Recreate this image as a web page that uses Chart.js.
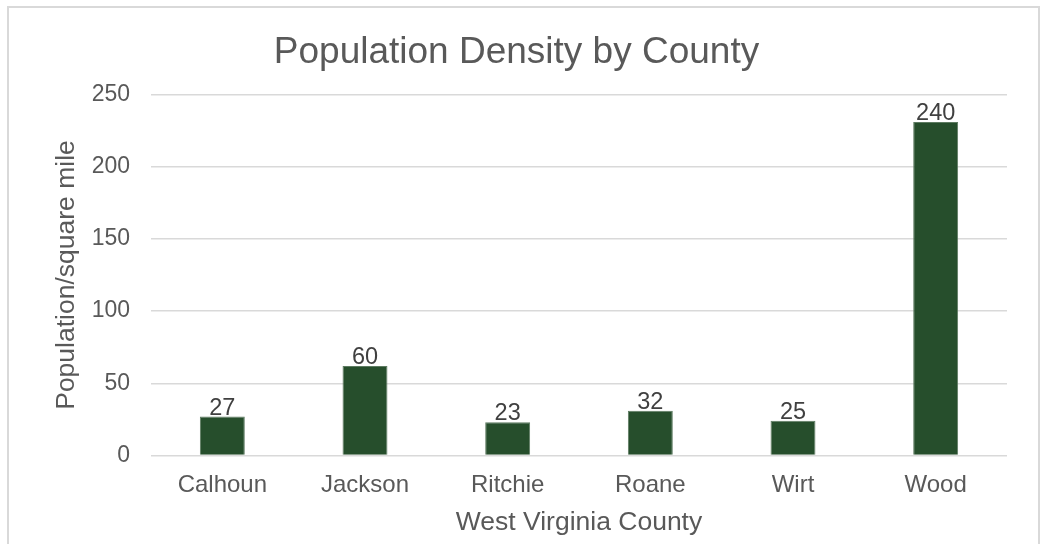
<!DOCTYPE html>
<html><head><meta charset="utf-8">
<script src="https://cdn.jsdelivr.net/npm/chart.js@4.4.1/dist/chart.umd.min.js"></script>
<style>
html,body{margin:0;padding:0;background:#fff;}
#wrap{position:relative;width:1045px;height:544px;overflow:hidden;}
#frame{position:absolute;left:7px;top:6px;width:1033px;height:580px;border:2px solid #d9d9d9;box-sizing:border-box;}
canvas{position:absolute;left:0;top:0;}
</style></head><body>
<div id="wrap"><div id="frame"></div><canvas id="c" width="1045" height="544"></canvas></div>
<script>
const categories = ['Calhoun', 'Jackson', 'Ritchie', 'Roane', 'Wirt', 'Wood'];
const densityValues = [27, 62, 23, 31, 24, 231];
const densityLabels = ['27', '60', '23', '32', '25', '240'];
const yTickValues = [0, 50, 100, 150, 200, 250];

const FONT = '"Liberation Sans", Arial, sans-serif';

const labelPlugin = {
  id: 'barLabels',
  afterDatasetsDraw(chart) {
    const ctx = chart.ctx;
    const meta = chart.getDatasetMeta(0);
    ctx.save();
    ctx.font = '23.5px ' + FONT;
    ctx.fillStyle = '#404040';
    ctx.textAlign = 'center';
    ctx.textBaseline = 'alphabetic';
    meta.data.forEach((bar, i) => {
      ctx.fillText(densityLabels[i], bar.x, bar.y - 2);
    });
    ctx.restore();
  }
};

new Chart(document.getElementById('c'), {
  type: 'bar',
  data: {
    labels: categories,
    datasets: [{
      data: densityValues,
      backgroundColor: '#264e2c',
      borderColor: '#5d7b61',
      borderWidth: 1,
      barPercentage: 0.315,
      categoryPercentage: 1.0
    }]
  },
  options: {
    responsive: false,
    animation: false,
    devicePixelRatio: 1,
    layout: { padding: { left: 8, right: 20, top: 8, bottom: 0 } },
    plugins: {
      legend: { display: false },
      tooltip: { enabled: false },
      title: {
        display: true,
        text: 'Population Density by County',
        color: '#595959',
        font: { family: FONT, size: 37, weight: 'normal' },
        padding: { top: 22.3, bottom: 19.8 }
      }
    },
    scales: {
      x: {
        grid: { display: false, drawTicks: false },
        border: { display: false },
        ticks: { color: '#595959', font: { family: FONT, size: 24 }, padding: 15, maxRotation: 0, autoSkip: false },
        title: { display: true, text: 'West Virginia County', color: '#595959', font: { family: FONT, size: 26.5 }, padding: { top: 4, bottom: 5 } },
        afterFit(s) { s.height = 544 - 455.5; }
      },
      y: {
        min: 0, max: 250,
        afterBuildTicks(s) { s.ticks = yTickValues.map(v => ({ value: v })); },
        grid: { color: '#d9d9d9', lineWidth: 1.5, drawTicks: false },
        border: { display: false },
        ticks: { color: '#595959', font: { family: FONT, size: 23 }, padding: 21 },
        title: { display: true, text: 'Population/square mile', color: '#595959', font: { family: FONT, size: 26.5 }, padding: { top: 42.6, bottom: 0 } },
        afterFit(s) { s.width = 143; }
      },
      yR: {
        position: 'right',
        display: true,
        grid: { display: false, drawTicks: false },
        border: { display: false },
        ticks: { display: false },
        afterFit(s) { s.width = 18; }
      }
    }
  },
  plugins: [labelPlugin]
});
</script>
</body></html>
